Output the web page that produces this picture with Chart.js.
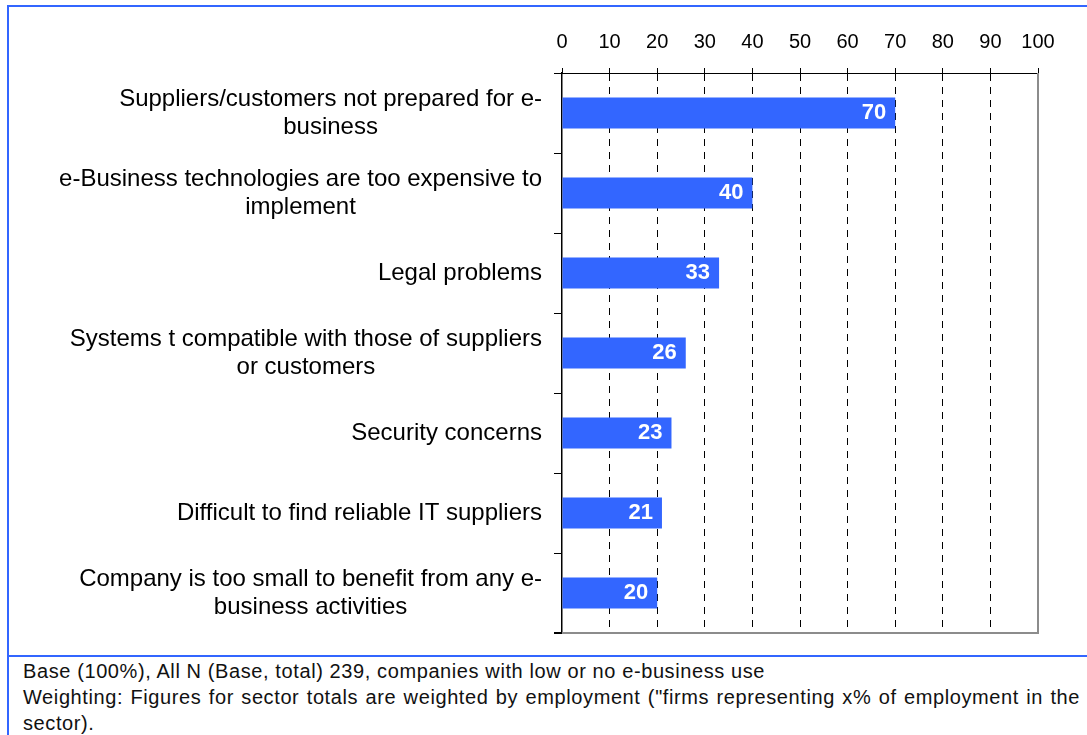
<!DOCTYPE html>
<html>
<head>
<meta charset="utf-8">
<script src="https://cdn.jsdelivr.net/npm/chart.js@4.4.0/dist/chart.umd.min.js"></script>
<style>
  html, body { margin: 0; padding: 0; background: #fff; }
  body { width: 1087px; height: 735px; position: relative; overflow: hidden; font-family: "Liberation Sans", Arial, sans-serif; }
  #frame { position: absolute; left: 7px; top: 5px; right: -10px; bottom: -10px; border-left: 2px solid #3366ff; border-top: 2px solid #3366ff; }
  #rule { position: absolute; left: 7px; right: 0; top: 655px; height: 2px; background: #3366ff; }
  #chartBox { position: absolute; left: 0; top: 0; width: 1087px; height: 655px; }
  #notes { position: absolute; left: 23px; top: 658px; width: 1057px; font-size: 20px; letter-spacing: 0.6px; line-height: 26px; color: #111; }
  #notes .just { text-align: justify; }
</style>
</head>
<body>
<div id="frame"></div>
<div id="chartBox"><canvas id="barrierChart" width="1087" height="655"></canvas></div>
<div id="rule"></div>
<div id="notes">
  <div>Base (100%), All N (Base, total) 239, companies with low or no e-business use</div>
  <div class="just">Weighting: Figures for sector totals are weighted by employment ("firms representing x% of employment in the sector).</div>
</div>
<script>
// Barreiras ao e-business (percentual de empresas)
const categories = [
  ['Suppliers/customers not prepared for e-', 'business'],
  ['e-Business technologies are too expensive to', 'implement'],
  ['Legal problems'],
  ['Systems t compatible with those of suppliers', 'or customers'],
  ['Security concerns'],
  ['Difficult to find reliable IT suppliers'],
  ['Company is too small to benefit from any e-', 'business activities']
];
const shares = [70, 40, 33, 26, 23, 21, 20];
const axisMin = 0;
const axisMax = 100;
const axisStep = 10;

const BAR_BLUE = '#3366ff';
const FONT = '"Liberation Sans", Arial, sans-serif';

// Rótulos das categorias: bloco alinhado à direita, linhas centralizadas no bloco
const categoryLabels = {
  id: 'categoryLabels',
  afterDraw(chart) {
    const { ctx } = chart;
    const yScale = chart.scales.y;
    const right = yScale.right - 20;
    const lineH = 28;
    ctx.save();
    ctx.font = '24px ' + FONT;
    ctx.fillStyle = '#000';
    ctx.textAlign = 'center';
    ctx.textBaseline = 'middle';
    chart.data.labels.forEach((lines, i) => {
      const yc = yScale.getPixelForValue(i);
      const widest = Math.max(...lines.map(l => ctx.measureText(l).width));
      const xc = right - widest / 2;
      const top = yc - (lines.length - 1) * lineH / 2;
      lines.forEach((l, j) => ctx.fillText(l, xc, top + j * lineH));
    });
    ctx.restore();
  }
};

// Valores dentro das barras, em branco
const valueLabels = {
  id: 'valueLabels',
  afterDatasetsDraw(chart) {
    const { ctx } = chart;
    const meta = chart.getDatasetMeta(0);
    ctx.save();
    ctx.font = 'bold 22px ' + FONT;
    ctx.fillStyle = '#fff';
    ctx.textAlign = 'right';
    ctx.textBaseline = 'middle';
    meta.data.forEach((bar, i) => {
      ctx.fillText(String(chart.data.datasets[0].data[i]), bar.x - 9, bar.y);
    });
    ctx.restore();
  }
};

// Borda cinza à direita e embaixo da área do gráfico
const plotFrame = {
  id: 'plotFrame',
  afterDraw(chart) {
    const { ctx, chartArea: a } = chart;
    ctx.save();
    ctx.strokeStyle = '#8c8c8c';
    ctx.lineWidth = 2;
    ctx.beginPath();
    ctx.moveTo(a.right, a.top);
    ctx.lineTo(a.right, a.bottom);
    ctx.lineTo(a.left, a.bottom);
    ctx.stroke();
    ctx.strokeStyle = '#000';
    ctx.lineWidth = 1;
    ctx.beginPath();
    ctx.moveTo(a.left - 8, a.bottom - 0.5);
    ctx.lineTo(a.left, a.bottom - 0.5);
    ctx.stroke();
    ctx.restore();
  }
};

const ctx = document.getElementById('barrierChart').getContext('2d');
new Chart(ctx, {
  type: 'bar',
  data: {
    labels: categories,
    datasets: [{
      data: shares,
      backgroundColor: BAR_BLUE,
      borderWidth: 0,
      categoryPercentage: 1,
      barPercentage: 0.39
    }]
  },
  options: {
    indexAxis: 'y',
    responsive: false,
    animation: false,
    layout: { padding: { top: 28, right: 49, bottom: 22, left: 0 } },
    plugins: { legend: { display: false }, tooltip: { enabled: false } },
    scales: {
      x: {
        position: 'top',
        min: axisMin,
        max: axisMax,
        afterFit(scale) { scale.height = 45; },
        ticks: {
          stepSize: axisStep,
          color: '#000',
          padding: 14,
          font: { size: 20, family: FONT }
        },
        grid: {
          color: c => (c.tick && (c.tick.value === axisMin || c.tick.value === axisMax)) ? 'rgba(0,0,0,0)' : '#000',
          tickColor: '#000',
          tickLength: 5,
          lineWidth: 1
        },
        border: { color: '#000', width: 1, dash: [7, 6] }
      },
      y: {
        afterFit(scale) { scale.width = 562; },
        ticks: { display: false },
        grid: {
          drawOnChartArea: false,
          tickColor: '#000',
          tickLength: 8
        },
        border: { color: '#000', width: 1.5 }
      }
    }
  },
  plugins: [valueLabels, categoryLabels, plotFrame]
});
</script>
</body>
</html>
